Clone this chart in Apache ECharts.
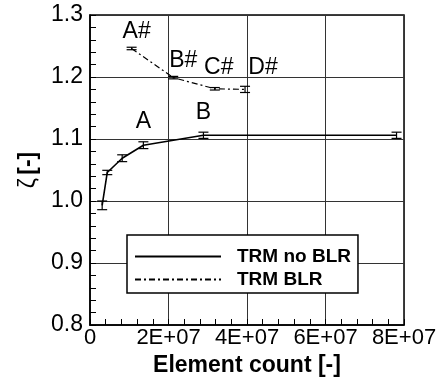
<!DOCTYPE html>
<html>
<head>
<meta charset="utf-8">
<script src="https://cdn.jsdelivr.net/npm/echarts@6/dist/echarts.min.js"></script>
<style>
  html, body { margin: 0; padding: 0; background: #fff; }
  #chart { width: 445px; height: 387px; }
</style>
</head>
<body>
<div id="chart"></div>
<script>
// data
const noBlrX = [3.1e6, 4.4e6, 8.2e6, 13.6e6, 28.9e6, 78.1e6]
const noBlrY = [0.993, 1.046, 1.069, 1.090, 1.106, 1.106]
const noBlrErr = [0.007, 0.0035, 0.0055, 0.0055, 0.005, 0.005]
const noBlrTags = ['', '', '', 'A', 'B', '']

const blrX = [10.6e6, 21.2e6, 31.8e6, 39.5e6]
const blrY = [1.246, 1.199, 1.181, 1.180]
const blrErr = [0.002, 0.002, 0.002, 0.005]
const blrTags = ['A#', 'B#', 'C#', 'D#']

const xTicks = [0, 2e7, 4e7, 6e7, 8e7]
const yTicks = [0.8, 0.9, 1.0, 1.1, 1.2, 1.3]
const seriesNames = ['TRM no BLR', 'TRM BLR']

// label offsets (px) from each point, for the A/B tags
const noBlrTagOff = [[0, 0], [0, 0], [0, 0], [0, -24], [0, -23], [0, 0]]
const blrTagOff = [[5, -17], [10, -17], [4, -21], [18, -22]]

const FONT = '"Liberation Sans", Arial, Helvetica, sans-serif'

// error bars + text tags drawn through the axes
const errBars = (tags, offs) => (params, api) => {
  const x = api.value(0)
  const y = api.value(1)
  const e = api.value(2)
  const top = api.coord([x, y + e])
  const bot = api.coord([x, y - e])
  const w = 5
  const ls = { stroke: '#000', lineWidth: 1.2 }
  const children = [
    { type: 'line', shape: { x1: top[0], y1: top[1], x2: bot[0], y2: bot[1] }, style: ls },
    { type: 'line', shape: { x1: top[0] - w, y1: top[1], x2: top[0] + w, y2: top[1] }, style: ls },
    { type: 'line', shape: { x1: bot[0] - w, y1: bot[1], x2: bot[0] + w, y2: bot[1] }, style: ls }
  ]
  const tag = tags[params.dataIndex]
  if (tag) {
    const p = api.coord([x, y])
    const o = offs[params.dataIndex]
    children.push({
      type: 'text',
      x: p[0] + o[0],
      y: p[1] + o[1],
      style: { text: tag, font: '23px ' + FONT, fill: '#000', align: 'center', verticalAlign: 'middle' }
    })
  }
  return { type: 'group', children }
}

const chart = echarts.init(document.getElementById('chart'))

const option = {
  animation: false,
  backgroundColor: '#fff',
  grid: {
    left: 90, right: 41, top: 15, bottom: 62,
    show: true, borderColor: '#000', borderWidth: 1.5, backgroundColor: 'transparent'
  },
  legend: {
    data: seriesNames,
    orient: 'vertical',
    left: 127,
    top: 235,
    padding: [12, 7, 4, 7],
    itemWidth: 86,
    itemHeight: 14,
    itemGap: 4,
    itemStyle: { opacity: 0 },
    borderColor: '#000',
    borderWidth: 1.5,
    backgroundColor: '#fff',
    textStyle: { fontFamily: FONT, fontSize: 19, fontWeight: 'bold', color: '#000', padding: [0, 0, 0, 11] }
  },
  xAxis: {
    type: 'value',
    min: xTicks[0],
    max: xTicks[xTicks.length - 1],
    interval: xTicks[1] - xTicks[0],
    name: 'Element count [-]',
    nameLocation: 'middle',
    nameGap: 27,
    nameTextStyle: { fontFamily: FONT, fontSize: 23, fontWeight: 'bold', color: '#000', verticalAlign: 'top' },
    axisLine: { show: true, lineStyle: { color: '#000', width: 1.5 } },
    axisTick: { show: true, inside: true, length: 6, lineStyle: { color: '#000' } },
    minorTick: { show: true, splitNumber: 5, length: 6, lineStyle: { color: '#000' } },
    splitLine: { show: true, lineStyle: { color: '#333', width: 1 } },
    axisLabel: {
      margin: 2,
      fontFamily: FONT, fontSize: 22, color: '#000',
      formatter: v => v === 0 ? '0' : (v / 1e7) + 'E+07'
    }
  },
  yAxis: {
    type: 'value',
    min: yTicks[0],
    max: yTicks[yTicks.length - 1],
    interval: 0.1,
    name: '{z|ζ} {b|[-]}',
    nameLocation: 'middle',
    nameGap: 48,
    nameTextStyle: {
      color: '#000',
      rich: {
        z: { fontFamily: FONT, fontSize: 23, color: '#000' },
        b: { fontFamily: FONT, fontSize: 23, fontWeight: 'bold', color: '#000' }
      }
    },
    axisLine: { show: true, lineStyle: { color: '#000', width: 1.5 } },
    axisTick: { show: true, inside: true, length: 6, lineStyle: { color: '#000' } },
    minorTick: { show: true, splitNumber: 5, length: 6, lineStyle: { color: '#000' } },
    splitLine: { show: true, lineStyle: { color: '#333', width: 1 } },
    axisLabel: {
      margin: 7,
      fontFamily: FONT, fontSize: 23, color: '#000',
      formatter: v => v.toFixed(1)
    }
  },
  series: [
    {
      name: seriesNames[0],
      type: 'line',
      data: noBlrX.map((x, i) => [x, noBlrY[i]]),
      symbol: 'none',
      color: '#000',
      lineStyle: { color: '#000', width: 1.6, type: 'solid' },
      z: 3
    },
    {
      name: seriesNames[1],
      type: 'line',
      data: blrX.map((x, i) => [x, blrY[i]]),
      symbol: 'none',
      color: '#000',
      lineStyle: { color: '#000', width: 1.2, type: [6, 3, 2, 3] },
      z: 3
    },
    {
      type: 'custom',
      renderItem: errBars(noBlrTags, noBlrTagOff),
      data: noBlrX.map((x, i) => [x, noBlrY[i], noBlrErr[i]]),
      encode: { x: 0, y: 1 },
      z: 4
    },
    {
      type: 'custom',
      renderItem: errBars(blrTags, blrTagOff),
      data: blrX.map((x, i) => [x, blrY[i], blrErr[i]]),
      encode: { x: 0, y: 1 },
      z: 4
    }
  ]
}

chart.setOption(option)
</script>
</body>
</html>
